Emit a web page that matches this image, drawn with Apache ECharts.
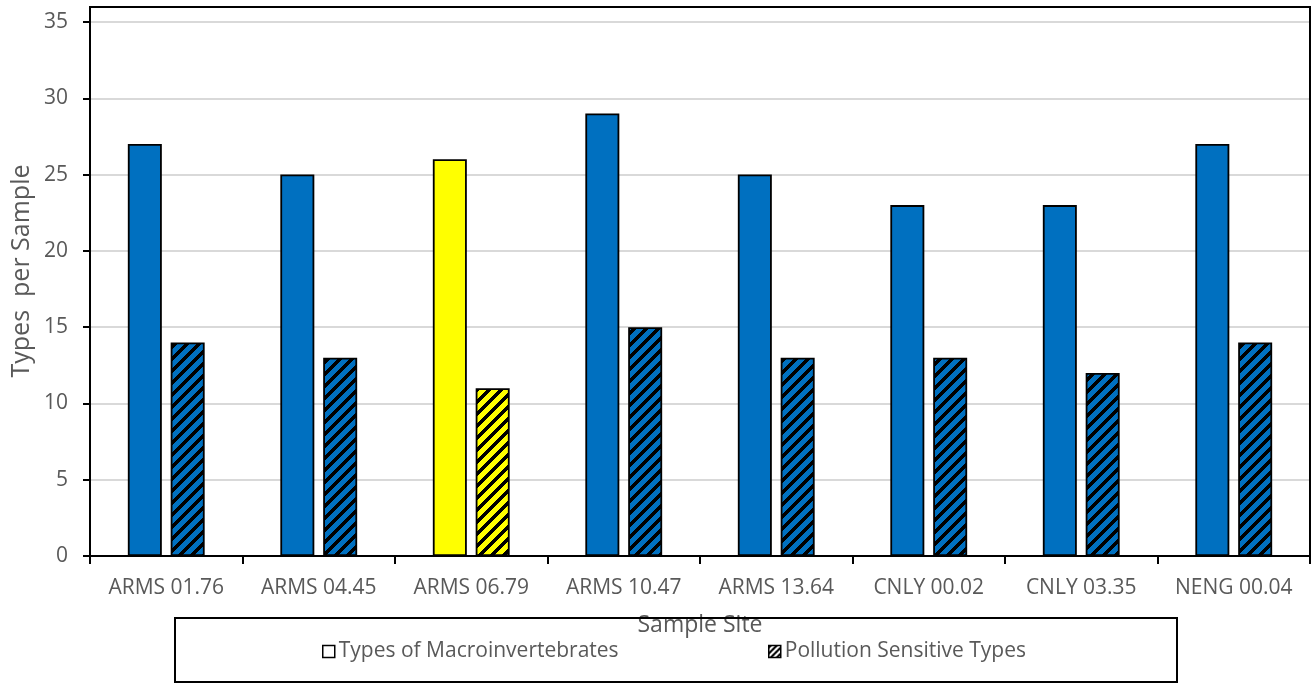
<!DOCTYPE html>
<html>
<head>
<meta charset="utf-8">
<script src="https://cdn.jsdelivr.net/npm/echarts@6/dist/echarts.min.js"></script>
<style>
  html, body { margin: 0; padding: 0; background: #fff; }
  #chart { width: 1312px; height: 684px; }
</style>
</head>
<body>
<div id="chart"></div>
<script>
// Sample sites and counts per sample
const sites = ['ARMS 01.76', 'ARMS 04.45', 'ARMS 06.79', 'ARMS 10.47', 'ARMS 13.64', 'CNLY 00.02', 'CNLY 03.35', 'NENG 00.04'];
const macroTypes = [27, 25, 26, 29, 25, 23, 23, 27];
const sensitiveTypes = [14, 13, 11, 15, 13, 13, 12, 14];
const highlightSite = 'ARMS 06.79';
const yTicks = [0, 5, 10, 15, 20, 25, 30, 35];

const BLUE = '#0070C0';
const YELLOW = '#FFFF00';
const FONT = 'Open Sans';
const TEXT = '#595959';

// Upward diagonal hatch tile: black stripes over a background colour
function hatch(bg, size, thick) {
  const s = size || 12;
  const w = thick || 5;
  const c = document.createElement('canvas');
  c.width = s; c.height = s;
  const ctx = c.getContext('2d');
  ctx.fillStyle = bg;
  ctx.fillRect(0, 0, s, s);
  ctx.fillStyle = '#000';
  for (let y = 0; y < s; y++) {
    for (let x = 0; x < s; x++) {
      if ((x + y) % s < w) ctx.fillRect(x, y, 1, 1);
    }
  }
  return { image: c, repeat: 'repeat' };
}

const barBorder = { borderColor: '#000', borderWidth: 1.8 };

const macroData = sites.map((s, i) => ({
  value: macroTypes[i],
  itemStyle: { color: s === highlightSite ? YELLOW : BLUE }
}));
const sensitiveData = sites.map((s, i) => ({
  value: sensitiveTypes[i],
  itemStyle: { color: hatch(s === highlightSite ? YELLOW : BLUE) }
}));

const chart = echarts.init(document.getElementById('chart'), null, { renderer: 'canvas' });

chart.setOption({
  animation: false,
  textStyle: { fontFamily: FONT, color: TEXT },
  grid: { left: 90, right: 2, top: 22, bottom: 128, containLabel: false, outerBoundsMode: 'none' },
  graphic: [
    // frame around the plot area
    { type: 'rect', shape: { x: 90, y: 7, width: 1220, height: 549 },
      style: { fill: 'none', stroke: '#000', lineWidth: 2 }, z: 100, silent: true },
    // legend box
    { type: 'rect', shape: { x: 175, y: 618, width: 1002, height: 64 },
      style: { fill: 'none', stroke: '#000', lineWidth: 2 }, z: 1, silent: true },
    // value axis title
    { type: 'text', x: 22, y: 271, rotation: Math.PI / 2, silent: true,
      style: { text: 'Types  per Sample', fontFamily: FONT, fontSize: 25, fill: TEXT,
               align: 'center', verticalAlign: 'middle' } }
  ],
  legend: [
    {
      left: 322, top: 641, padding: 0, itemWidth: 12, itemHeight: 12, itemGap: 4,
      textStyle: { fontFamily: FONT, fontSize: 21, color: TEXT, padding: [0, 0, 0, -1] },
      data: [{ name: 'Types of Macroinvertebrates', icon: 'rect',
               itemStyle: { color: '#fff', borderColor: '#000', borderWidth: 1.5 } }]
    },
    {
      left: 768, top: 641, padding: 0, itemWidth: 12, itemHeight: 12, itemGap: 4,
      textStyle: { fontFamily: FONT, fontSize: 21, color: TEXT, padding: [0, 0, 0, -1] },
      data: [{ name: 'Pollution Sensitive Types', icon: 'rect',
               itemStyle: { color: hatch('#fff', 6, 3), borderColor: '#000', borderWidth: 1.5 } }]
    }
  ],
  xAxis: {
    type: 'category',
    data: sites,
    boundaryGap: true,
    name: 'Sample Site',
    nameLocation: 'middle',
    nameGap: 58,
    nameTextStyle: { fontFamily: FONT, fontSize: 23, color: TEXT },
    axisLine: { lineStyle: { color: '#000', width: 2 } },
    axisTick: { show: true, length: 8, inside: false, alignWithLabel: false, lineStyle: { color: '#000', width: 2 } },
    axisLabel: { margin: 22, fontFamily: FONT, fontSize: 21, color: TEXT, interval: 0 },
    splitLine: { show: false }
  },
  yAxis: {
    type: 'value',
    min: yTicks[0],
    max: yTicks[yTicks.length - 1],
    interval: yTicks[1] - yTicks[0],
    axisLine: { show: true, lineStyle: { color: '#000', width: 2 } },
    axisTick: { show: true, length: 7, lineStyle: { color: '#000', width: 2 } },
    axisLabel: { margin: 22, fontFamily: FONT, fontSize: 21, color: TEXT },
    splitLine: { show: true, lineStyle: { color: '#d9d9d9', width: 2 } }
  },
  series: [
    {
      name: 'Types of Macroinvertebrates',
      type: 'bar',
      barWidth: 34,
      barGap: '26%',
      data: macroData,
      itemStyle: barBorder
    },
    {
      name: 'Pollution Sensitive Types',
      type: 'bar',
      barWidth: 34,
      barGap: '26%',
      data: sensitiveData,
      itemStyle: barBorder
    }
  ]
});
</script>
</body>
</html>
